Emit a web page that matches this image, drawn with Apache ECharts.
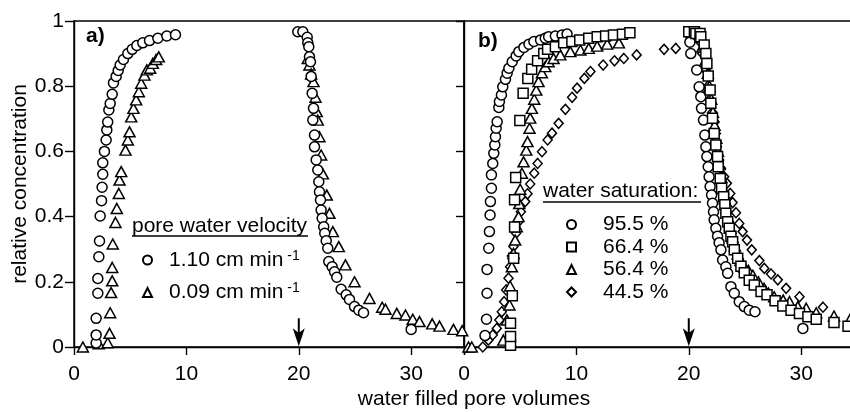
<!DOCTYPE html>
<html>
<head>
<meta charset="utf-8">
<script src="https://cdn.jsdelivr.net/npm/echarts@6/dist/echarts.min.js"></script>
<style>
  html, body { margin: 0; padding: 0; background: #fff; }
  #chart { width: 850px; height: 412px; }
</style>
</head>
<body>
<div id="chart"></div>
<script>
const FONT = "'Liberation Sans', Arial, Helvetica, sans-serif";
const FS = 21;

// panel a) pore water velocity (cm min-1)
const velocityLabels = ['1.10', '0.09'];
const aFast = [
  [1.97, 0.012], [1.97, 0.037], [1.97, 0.088], [2.12, 0.165], [2.12, 0.21], [2.21, 0.277], [2.27, 0.325],
  [2.33, 0.402], [2.45, 0.449], [2.5, 0.49], [2.56, 0.53], [2.56, 0.565], [2.71, 0.6], [2.86, 0.635],
  [2.92, 0.666], [3.0, 0.69], [3.1, 0.727], [3.22, 0.747], [3.4, 0.775], [3.51, 0.81], [3.75, 0.83],
  [3.93, 0.848], [4.11, 0.865], [4.4, 0.882], [4.79, 0.9], [5.18, 0.913], [5.59, 0.925], [6.12, 0.933],
  [6.72, 0.94], [7.46, 0.947], [8.26, 0.954], [9.03, 0.958],
  [19.91, 0.967], [20.36, 0.967], [20.75, 0.95], [20.8, 0.933], [20.89, 0.921], [20.95, 0.89], [21.04, 0.875],
  [21.1, 0.83], [21.19, 0.778], [21.31, 0.732], [21.25, 0.696], [21.4, 0.65], [21.4, 0.614], [21.55, 0.574],
  [21.69, 0.543], [21.78, 0.507], [21.84, 0.476], [21.93, 0.451], [21.99, 0.42], [22.08, 0.395], [22.22, 0.369],
  [22.31, 0.349], [22.44, 0.326], [22.58, 0.303], [22.67, 0.262], [22.97, 0.246], [23.18, 0.231], [23.38, 0.214],
  [23.77, 0.177], [24.22, 0.16], [24.51, 0.146], [24.96, 0.124], [25.34, 0.113], [25.76, 0.105], [30.0, 0.054]
];
const aSlow = [
  [0.79, 0.0], [2.2, 0.01], [3.0, 0.013], [3.16, 0.042], [3.22, 0.105], [3.3, 0.167], [3.4, 0.203], [3.4, 0.244],
  [3.45, 0.316], [3.69, 0.382], [3.81, 0.425], [3.99, 0.471], [4.05, 0.512], [4.2, 0.538], [4.58, 0.604],
  [4.79, 0.635], [4.94, 0.66], [5.09, 0.706], [5.29, 0.732], [5.53, 0.758], [5.77, 0.783], [5.98, 0.809],
  [6.27, 0.834], [6.48, 0.85], [6.78, 0.855], [7.01, 0.87], [7.31, 0.882], [7.54, 0.89],
  [20.8, 0.885], [20.95, 0.865], [21.1, 0.837], [21.31, 0.814], [21.49, 0.766], [21.6, 0.722], [21.69, 0.696],
  [21.84, 0.645], [21.99, 0.589], [22.14, 0.531], [22.49, 0.466], [22.73, 0.41], [23.03, 0.354], [23.56, 0.308],
  [24.15, 0.252], [24.96, 0.2], [26.29, 0.149], [27.42, 0.122], [27.71, 0.116], [28.72, 0.103], [29.49, 0.098],
  [30.14, 0.085], [30.74, 0.078], [31.87, 0.071], [32.52, 0.064], [33.76, 0.054], [34.54, 0.05]
];

// panel b) water saturation
const saturationLabels = ['95.5 %', '66.4 %', '56.4 %', '44.5 %'];
const b955 = [
  [1.87, 0.035], [2.0, 0.085], [2.05, 0.165], [2.05, 0.238], [2.2, 0.303], [2.26, 0.354], [2.32, 0.405],
  [2.35, 0.446], [2.44, 0.487], [2.44, 0.528], [2.56, 0.563], [2.65, 0.594], [2.74, 0.62], [2.8, 0.645],
  [2.86, 0.671], [2.95, 0.691], [3.1, 0.735], [3.15, 0.753], [3.33, 0.773], [3.45, 0.798], [3.69, 0.821],
  [3.84, 0.84], [3.99, 0.855], [4.29, 0.875], [4.64, 0.893], [4.88, 0.906], [5.33, 0.919], [5.78, 0.929],
  [6.22, 0.937], [6.81, 0.942], [7.23, 0.947], [7.53, 0.952], [8.13, 0.954], [8.72, 0.957], [9.17, 0.96],
  [20.03, 0.967], [20.03, 0.962], [20.1, 0.935], [20.18, 0.9], [20.71, 0.85], [20.92, 0.798], [21.07, 0.768],
  [21.13, 0.732], [21.31, 0.696], [21.43, 0.65], [21.52, 0.614], [21.61, 0.584], [21.73, 0.553], [21.81, 0.522],
  [21.9, 0.492], [22.03, 0.466], [22.11, 0.441], [22.2, 0.415], [22.26, 0.39], [22.41, 0.364], [22.56, 0.34],
  [22.7, 0.32], [22.86, 0.298], [23.01, 0.267], [23.3, 0.246], [23.46, 0.226], [23.75, 0.185], [24.05, 0.165],
  [24.49, 0.139], [24.94, 0.124], [25.38, 0.113], [25.89, 0.108], [30.15, 0.057]
];
const b664 = [
  [4.14, 0.005], [4.14, 0.032], [4.14, 0.073], [4.3, 0.157], [4.42, 0.272], [4.5, 0.368], [4.5, 0.452],
  [4.6, 0.52], [4.97, 0.695], [5.26, 0.778], [5.68, 0.824], [6.02, 0.852], [6.55, 0.878], [7.1, 0.9],
  [7.44, 0.913], [8.13, 0.921], [8.87, 0.933], [9.6, 0.937], [10.3, 0.942], [11.1, 0.947], [11.85, 0.952],
  [12.6, 0.954], [13.3, 0.957], [14.1, 0.959], [14.76, 0.964],
  [20.0, 0.967], [20.5, 0.967], [20.63, 0.962], [21.0, 0.962], [21.07, 0.952], [21.37, 0.926], [21.52, 0.9],
  [21.61, 0.87], [21.73, 0.831], [21.9, 0.788], [21.96, 0.748], [22.11, 0.702], [22.26, 0.655], [22.41, 0.62],
  [22.56, 0.584], [22.62, 0.553], [22.8, 0.517], [22.92, 0.487], [23.1, 0.461], [23.21, 0.436], [23.3, 0.41],
  [23.46, 0.384], [23.6, 0.364], [23.75, 0.34], [23.9, 0.323], [24.05, 0.298], [24.35, 0.272], [24.64, 0.248],
  [24.94, 0.228], [25.38, 0.205], [25.83, 0.19], [26.43, 0.17], [26.96, 0.16], [27.68, 0.142], [28.37, 0.126],
  [29.1, 0.113], [29.85, 0.103], [30.6, 0.093], [31.34, 0.085], [32.92, 0.075], [34.17, 0.064]
];
const b564 = [
  [0.4, 0.0], [0.69, 0.0], [3.5, 0.021], [3.81, 0.083], [4.05, 0.129], [4.1, 0.187], [4.26, 0.246], [4.4, 0.287],
  [4.55, 0.328], [4.7, 0.369], [4.85, 0.4], [4.92, 0.44], [5.0, 0.484], [5.15, 0.533], [5.3, 0.568], [5.54, 0.604],
  [5.65, 0.63], [5.83, 0.671], [5.89, 0.702], [6.04, 0.732], [6.25, 0.76], [6.43, 0.788], [6.63, 0.814],
  [6.93, 0.841], [7.23, 0.86], [7.53, 0.875], [7.97, 0.885], [8.57, 0.896], [9.46, 0.906], [10.36, 0.911],
  [11.1, 0.916], [11.85, 0.923], [12.74, 0.929], [13.78, 0.933],
  [20.3, 0.965], [20.8, 0.95], [21.2, 0.92], [21.5, 0.88], [21.7, 0.84], [21.85, 0.8], [22.0, 0.76], [22.15, 0.72],
  [22.3, 0.68], [22.45, 0.64], [22.6, 0.6], [22.75, 0.56], [22.9, 0.52], [23.05, 0.485], [23.2, 0.455],
  [23.35, 0.425], [23.55, 0.395], [23.7, 0.365], [23.9, 0.335], [24.1, 0.31], [24.35, 0.285], [24.6, 0.265],
  [24.95, 0.245], [25.3, 0.235], [25.7, 0.22], [26.2, 0.2], [26.7, 0.18], [27.1, 0.165], [27.6, 0.154],
  [28.4, 0.144], [28.96, 0.139], [29.7, 0.124], [30.45, 0.119], [31.34, 0.105], [32.92, 0.095], [34.4, 0.088]
];
const b445 = [
  [1.67, 0.0], [2.17, 0.021], [2.56, 0.037], [2.92, 0.057], [3.15, 0.083], [3.36, 0.108], [3.57, 0.139],
  [3.75, 0.175], [3.96, 0.211], [4.1, 0.246], [4.26, 0.279], [4.4, 0.308], [4.64, 0.349], [4.85, 0.384],
  [5.06, 0.415], [5.45, 0.446], [5.65, 0.47], [5.89, 0.5], [6.25, 0.533], [6.55, 0.563], [6.94, 0.599],
  [7.44, 0.635], [7.83, 0.656], [8.42, 0.686], [9.02, 0.729], [9.62, 0.766], [10.06, 0.794], [10.71, 0.824],
  [11.25, 0.845], [12.38, 0.865], [13.39, 0.878], [14.22, 0.885], [15.36, 0.896], [17.8, 0.913], [18.84, 0.916],
  [20.47, 0.957], [20.9, 0.94], [21.2, 0.9], [21.5, 0.85], [21.7, 0.8], [21.9, 0.76], [22.1, 0.72], [22.3, 0.69],
  [22.41, 0.655], [22.5, 0.614], [22.7, 0.574], [22.86, 0.548], [23.15, 0.522], [23.39, 0.502], [23.69, 0.471],
  [23.9, 0.443], [24.2, 0.412], [24.49, 0.379], [24.79, 0.354], [25.18, 0.328], [25.6, 0.298], [26.28, 0.265],
  [26.72, 0.241], [27.32, 0.224], [27.92, 0.206], [28.66, 0.18], [29.85, 0.154], [31.94, 0.122]
];

const xTicks = [0, 10, 20, 30];
const xMax = 34.7;
const arrowAt = [20, 0.045]; // end of the pulse, in both panels

const ARROW = 'path://M5,0 L7,0 L7,14 L12,10 L6,28 L0,10 L5,14 Z';
const ink = '#000';

function xAxisFor(i) {
  return {
    type: 'value', gridIndex: i, min: 0, max: xMax, interval: 10,
    axisLine: { lineStyle: { color: ink, width: 1.4 } },
    axisTick: { length: 8, lineStyle: { color: ink, width: 1.4 } },
    axisLabel: {
      margin: 17, fontSize: FS, color: ink, fontFamily: FONT,
      formatter: v => xTicks.includes(v) ? String(v) : ''
    },
    splitLine: { show: false }
  };
}

function yAxisFor(i) {
  return {
    type: 'value', gridIndex: i, min: 0, max: 1, interval: 0.2,
    name: i === 0 ? 'relative concentration' : '',
    nameLocation: 'middle', nameGap: 40,
    nameTextStyle: { fontSize: FS, color: ink, fontFamily: FONT },
    axisLine: { show: true, lineStyle: { color: ink, width: 1.4 } },
    axisTick: { show: true, length: i === 0 ? 9 : 8, lineStyle: { color: ink, width: 1.4 } },
    axisLabel: { show: i === 0, margin: 10, fontSize: FS, color: ink, fontFamily: FONT },
    splitLine: { show: false }
  };
}

function pts(name, data, symbol, size, i, extra) {
  return Object.assign({
    type: 'scatter', name, data, xAxisIndex: i, yAxisIndex: i,
    symbol, symbolSize: size, clip: false,
    itemStyle: { color: '#fff', borderColor: ink, borderWidth: 1.5, opacity: 1 },
    emphasis: { disabled: true }
  }, extra || {});
}

const arrowMark = {
  markPoint: {
    symbol: ARROW, symbolSize: [12, 28], silent: true,
    data: [{ coord: arrowAt }],
    itemStyle: { color: ink, borderWidth: 0 },
    label: { show: false }
  }
};

function legendText(gap, sup) {
  return {
    color: ink, fontFamily: FONT, fontSize: FS,
    rich: {
      g: { width: gap, fontSize: FS },
      t: { fontSize: FS, lineHeight: sup ? 22 : 21, fontFamily: FONT, color: ink },
      s: { fontSize: 14, lineHeight: 14, verticalAlign: 'top', padding: [0, 0, 0, 4], fontFamily: FONT, color: ink }
    }
  };
}

const titleStyle = (size, weight) => ({ fontSize: size, fontWeight: weight, fontFamily: FONT, color: ink });

const chart = echarts.init(document.getElementById('chart'), null, { renderer: 'canvas' });
chart.setOption({
  animation: false,
  backgroundColor: '#fff',
  title: [
    { text: 'a)', left: 86, top: 26, padding: 0, textStyle: titleStyle(21, 'bold') },
    { text: 'b)', left: 478, top: 31, padding: 0, textStyle: titleStyle(21, 'bold') },
    { text: 'pore water velocity', left: 132, top: 216, padding: 0, textStyle: titleStyle(FS, 'normal') },
    { text: 'water saturation:', left: 543, top: 181, padding: 0, textStyle: titleStyle(FS, 'normal') },
    { text: 'water filled pore volumes', left: 474, top: 389, textAlign: 'center', padding: 0, textStyle: titleStyle(FS, 'normal') }
  ],
  graphic: [
    { type: 'line', silent: true, shape: { x1: 132, y1: 236, x2: 308, y2: 236 }, style: { stroke: ink, lineWidth: 1.4 } },
    { type: 'line', silent: true, shape: { x1: 543, y1: 202, x2: 701, y2: 202 }, style: { stroke: ink, lineWidth: 1.4 } }
  ],
  legend: [
    {
      data: velocityLabels, orient: 'vertical', left: 142, top: 249, padding: 0,
      itemWidth: 9, itemHeight: 9, itemGap: 11, selectedMode: false,
      formatter: n => '{g| }{t|' + n + ' cm min}{s|-1}',
      textStyle: legendText(12, true)
    },
    {
      data: saturationLabels, orient: 'vertical', left: 566, top: 214, padding: 0,
      itemWidth: 9, itemHeight: 9, itemGap: 1.5, selectedMode: false,
      formatter: n => '{g| }{t|' + n + '}',
      textStyle: legendText(22, false)
    }
  ],
  grid: [
    { left: 74, top: 21, width: 390, height: 326, show: true, borderColor: ink, borderWidth: 1.4, outerBoundsMode: 'none' },
    { left: 464, top: 21, width: 390, height: 326, show: true, borderColor: ink, borderWidth: 1.4, outerBoundsMode: 'none' }
  ],
  xAxis: [xAxisFor(0), xAxisFor(1)],
  yAxis: [yAxisFor(0), yAxisFor(1)],
  series: [
    pts(velocityLabels[1], aSlow, 'triangle', [11, 10], 0),
    pts(velocityLabels[0], aFast, 'circle', 10, 0, arrowMark),
    pts(saturationLabels[3], b445, 'diamond', [9, 10], 1),
    pts(saturationLabels[2], b564, 'triangle', [11, 10], 1),
    pts(saturationLabels[0], b955, 'circle', 10, 1, arrowMark),
    pts(saturationLabels[1], b664, 'rect', 10, 1)
  ]
});
</script>
</body>
</html>
